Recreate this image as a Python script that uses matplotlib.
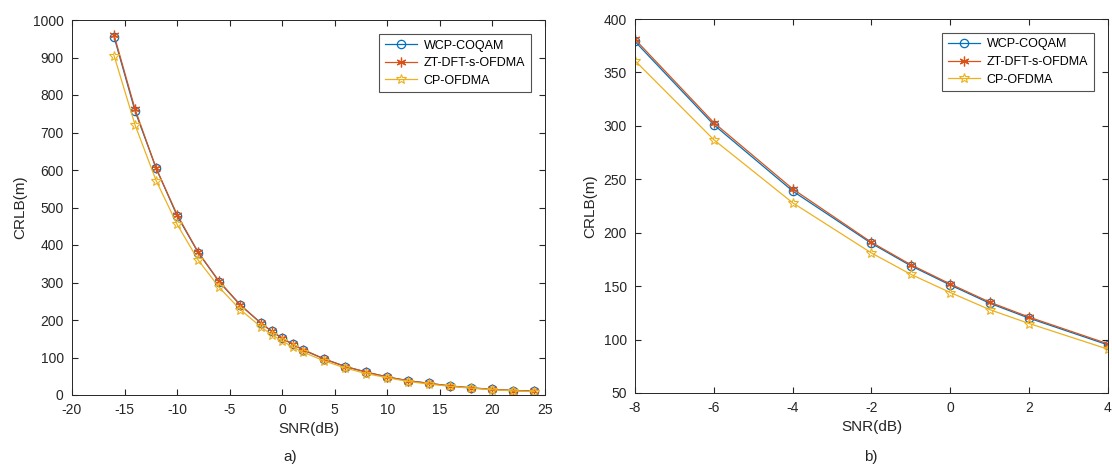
import matplotlib
matplotlib.use('Agg')
import matplotlib.pyplot as plt
import numpy as np

plt.rcParams['font.family'] = ['Liberation Sans', 'DejaVu Sans']
plt.rcParams['axes.unicode_minus'] = False

# data, panel a)
snr_a = [-16, -14, -12, -10, -8, -6, -4, -2, -1, 0, 1, 2, 4, 6, 8, 10, 12, 14, 16, 18, 20, 22, 24]
wcp_a = [955, 757, 605, 478, 380, 302, 240, 191, 170, 151, 135, 120, 96, 76, 61, 48, 38, 31, 24, 19, 15, 12, 11]
zt_a = [960, 762, 605, 481, 381, 303, 241, 191, 170, 152, 135, 121, 96, 76, 61, 48, 38, 31, 24, 19, 15, 12, 10]
cp_a = [905, 720, 572, 455, 360, 287, 228, 181, 161, 144, 128, 114, 91, 72, 57, 46, 36, 29, 23, 18, 14, 11, 9]

# data, panel b)
snr_b = [-8, -6, -4, -2, -1, 0, 1, 2, 4]
wcp_b = [379, 301, 239, 190, 169, 151, 134, 120, 95]
zt_b = [381, 303, 241, 191, 170, 152, 135, 121, 96]
cp_b = [361, 287, 228, 181, 161, 144, 128, 115, 91]

names = ['WCP-COQAM', 'ZT-DFT-s-OFDMA', 'CP-OFDMA']
colors = ['#0072BD', '#D95319', '#EDB120']
dark = '#262626'

W, H = 1112, 466
fig = plt.figure(figsize=(W/100, H/100), dpi=100)
ax1 = fig.add_axes([72/W, 1-395/H, (545-72)/W, (395-20)/H])
ax2 = fig.add_axes([635/W, 1-393/H, (1108-635)/W, (393-19)/H])


def draw(ax, x, ys):
    wcp, zt, cp = ys
    ax.plot(x, wcp, color=colors[0], lw=0.9, marker='o', ms=6, mfc='none',
            mec=colors[0], mew=0.9, label=names[0])
    ax.plot(x, zt, color=colors[1], lw=0.9, marker=(6, 2, 0), ms=7,
            mec=colors[1], mew=0.9, label=names[1])
    ax.plot(x, cp, color=colors[2], lw=0.9, marker='*', ms=7, mfc='none',
            mec=colors[2], mew=0.8, label=names[2])
    ax.tick_params(direction='in', top=True, right=True, colors=dark,
                   labelsize=10, length=4, pad=6)
    for s in ax.spines.values():
        s.set_color(dark)
        s.set_linewidth(0.7)
    ax.set_xlabel('SNR(dB)', fontsize=11, color=dark, labelpad=3)
    ax.set_ylabel('CRLB(m)', fontsize=11, color=dark)
    leg = ax.legend(loc='upper right', bbox_to_anchor=(0.970, 0.963),
                    fontsize=9, fancybox=False, edgecolor=dark,
                    borderaxespad=0, handlelength=2.6, labelspacing=0.45,
                    handletextpad=0.5, borderpad=0.45)
    leg.get_frame().set_linewidth(0.8)


draw(ax1, snr_a, [wcp_a, zt_a, cp_a])
ax1.set_xlim(-20, 25)
ax1.set_ylim(0, 1000)
ax1.set_xticks(np.arange(-20, 26, 5))
ax1.set_yticks(np.arange(0, 1001, 100))

draw(ax2, snr_b, [wcp_b, zt_b, cp_b])
ax2.set_xlim(-8, 4)
ax2.set_ylim(50, 400)
ax2.set_xticks(np.arange(-8, 5, 2))
ax2.set_yticks(np.arange(50, 401, 50))

fig.text(290/W, 1-457/H, 'a)', ha='center', va='center', fontsize=11, color=dark)
fig.text(871/W, 1-457/H, 'b)', ha='center', va='center', fontsize=11, color=dark)

fig.savefig('out.png', dpi=100)
